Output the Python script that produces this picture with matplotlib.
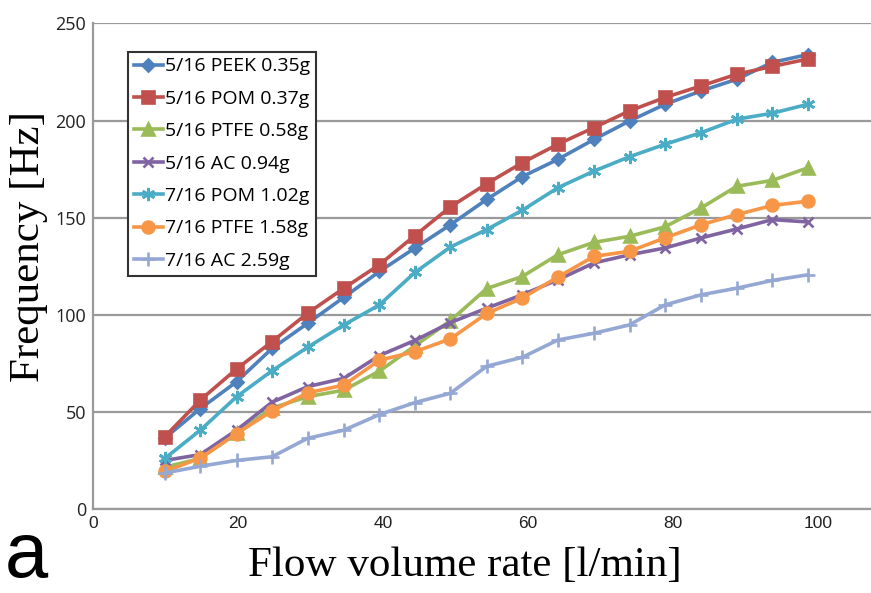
import matplotlib
matplotlib.use("Agg")
import matplotlib.pyplot as plt

flow = [9.9, 14.8, 19.8, 24.7, 29.6, 34.6, 39.5, 44.4, 49.3, 54.3,
        59.2, 64.1, 69.1, 74.0, 78.9, 83.9, 88.8, 93.7, 98.6]

peek_516 = [36.5, 51.7, 65.5, 82.7, 95.6, 109.0, 122.3, 134.4, 146.4, 159.4,
            171.1, 180.0, 190.3, 199.8, 208.4, 215.3, 221.3, 230.0, 234.0]
pom_516 = [37.2, 56.1, 72.1, 86.2, 100.8, 113.7, 125.8, 140.8, 155.6, 167.5,
           178.3, 187.8, 196.4, 205.0, 211.9, 217.9, 223.9, 227.9, 231.7]
ptfe_516 = [21.5, 26.0, 39.0, 52.0, 57.8, 61.2, 71.0, 84.0, 97.0, 113.5,
            119.7, 130.9, 137.3, 140.4, 145.3, 155.1, 166.2, 169.2, 175.7]
ac_516 = [25.0, 28.0, 40.6, 55.0, 63.0, 67.3, 79.0, 86.8, 96.0, 103.4,
          110.3, 118.0, 126.7, 130.9, 134.4, 139.6, 144.2, 149.0, 147.8]
pom_716 = [26.0, 40.6, 57.8, 71.2, 83.3, 94.8, 105.1, 121.8, 134.9, 143.9,
           153.8, 165.4, 174.0, 181.4, 187.8, 193.8, 200.7, 203.8, 208.4]
ptfe_716 = [19.3, 26.2, 38.8, 50.5, 59.8, 63.8, 76.6, 81.0, 87.6, 100.7,
            108.6, 119.4, 130.1, 132.7, 139.6, 146.4, 151.6, 156.3, 158.5]
ac_716 = [18.5, 22.0, 25.0, 26.9, 36.4, 40.6, 48.6, 54.8, 59.6, 73.5,
          78.1, 87.0, 90.5, 94.8, 105.1, 110.3, 113.7, 117.7, 120.6]

labels = ["5/16 PEEK 0.35g", "5/16 POM 0.37g", "5/16 PTFE 0.58g", "5/16 AC 0.94g",
          "7/16 POM 1.02g", "7/16 PTFE 1.58g", "7/16 AC 2.59g"]
series = [peek_516, pom_516, ptfe_516, ac_516, pom_716, ptfe_716, ac_716]
colors = ["#4F81BD", "#C0504D", "#9BBB59", "#8064A2", "#4BACC6", "#F79646", "#95A8D4"]
markers = ["D", "s", "^", "x", (6, 2, 0), "o", "+"]
msizes = [6.5, 8, 8, 7.5, 9.5, 8.5, 9.5]

yticks = [0, 50, 100, 150, 200, 250]
xticks = [0, 20, 40, 60, 80, 100]

fig = plt.figure(figsize=(8.71, 5.93), dpi=100)
ax = fig.add_axes([0.1068, 0.1417, 0.8932, 0.8187])

for ys, lab, c, m, ms in zip(series, labels, colors, markers, msizes):
    ax.plot(flow, ys, color=c, lw=2.6, marker=m, markersize=ms,
            markeredgewidth=1.9, markeredgecolor=c, markerfacecolor=c, label=lab)

ax.set_xlim(0, 107.3)
ax.set_ylim(0, 250)
ax.set_yticks(yticks)
ax.set_xticks(xticks)
ax.yaxis.grid(True, color="#9A9A9A", lw=1.6)
ax.set_axisbelow(True)
for s in ["top", "right"]:
    ax.spines[s].set_visible(False)
for s in ["left", "bottom"]:
    ax.spines[s].set_color("#9A9A9A")
    ax.spines[s].set_linewidth(1.6)
ax.tick_params(length=0)
ax.tick_params(axis="y", pad=5, labelsize=13)
ax.tick_params(axis="x", pad=5, labelsize=12.5)
for t in ax.get_yticklabels():
    t.set_family("Open Sans")
    t.set_color("#222222")
for t in ax.get_xticklabels():
    t.set_family("Liberation Sans")
    t.set_color("#222222")

ax.set_xlabel("Flow volume rate [l/min]", family="Liberation Serif", fontsize=31)
ax.set_ylabel("Frequency [Hz]", family="Liberation Serif", fontsize=31)
ax.xaxis.set_label_coords(0.478, -0.078)
ax.yaxis.set_label_coords(-0.058, 0.54)

leg = ax.legend(loc="upper left", bbox_to_anchor=(0.045, 0.942), frameon=True,
                fancybox=False, edgecolor="#333333", framealpha=1,
                prop={"family": "Open Sans", "size": 14}, handlelength=1.5,
                handletextpad=0.1, borderpad=0.3, labelspacing=0.74,
                borderaxespad=0)
leg.get_frame().set_linewidth(1.5)

fig.text(0.006, 0.0, "a", family="Liberation Sans", fontsize=56, ha="left",
         va="bottom")

fig.savefig("out.png", dpi=100)
